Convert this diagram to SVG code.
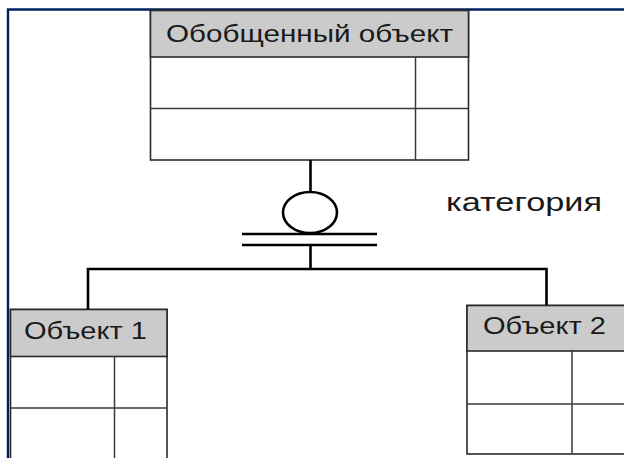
<svg xmlns="http://www.w3.org/2000/svg" width="624" height="458" viewBox="0 0 624 458">
<style>
.hdr{fill:#cbcbcb;stroke:#2a2a2a;stroke-width:1.6}
.body{fill:#ffffff;stroke:#2a2a2a;stroke-width:1.6}
.grid{stroke:#3a3a3a;stroke-width:1.5;fill:none}
.conn{stroke:#000;stroke-width:2.6;fill:none}
.t{font-family:"Liberation Sans",Arial,sans-serif;fill:#1a1a1a}
.frame{stroke:#00205f;stroke-width:2.4;fill:none}
</style>
<rect width="624" height="458" fill="#ffffff"/>
<g id="frame"><path class="frame" d="M8,458 V9.5 H624"/></g>
<g id="generic">
<rect class="body" x="150.5" y="10.5" width="318" height="149.5"/>
<rect class="hdr" x="150.5" y="10.5" width="318" height="46.5"/>
<line class="grid" x1="150.5" y1="108.5" x2="468.5" y2="108.5"/>
<line class="grid" x1="415.5" y1="57" x2="415.5" y2="160"/>
<text class="t" x="166" y="41.5" font-size="23" textLength="287" lengthAdjust="spacingAndGlyphs">Обобщенный объект</text>
</g>
<g id="obj1">
<rect class="body" x="10.5" y="309.5" width="156.5" height="160"/>
<rect class="hdr" x="10.5" y="309.5" width="156.5" height="47"/>
<line class="grid" x1="10.5" y1="408" x2="167" y2="408"/>
<line class="grid" x1="114.5" y1="356.5" x2="114.5" y2="458"/>
<text class="t" x="24" y="339" font-size="23" textLength="123" lengthAdjust="spacingAndGlyphs">Объект 1</text>
</g>
<g id="obj2">
<rect class="body" x="467" y="305.5" width="170" height="148.5"/>
<rect class="hdr" x="467" y="305.5" width="170" height="45.5"/>
<line class="grid" x1="467" y1="404" x2="624" y2="404"/>
<line class="grid" x1="572" y1="351" x2="572" y2="454"/>
<text class="t" x="483" y="334" font-size="23" textLength="123" lengthAdjust="spacingAndGlyphs">Объект 2</text>
</g>
<g id="connectors">
<line class="conn" x1="310.5" y1="160" x2="310.5" y2="192"/>
<ellipse class="conn" cx="310" cy="212.5" rx="27" ry="20.5"/>
<line class="conn" x1="242" y1="234" x2="377" y2="234"/>
<line class="conn" x1="242" y1="245" x2="377" y2="245"/>
<line class="conn" x1="310.5" y1="245" x2="310.5" y2="269"/>
<path class="conn" d="M88,309 V269 H546.5 V305"/>
</g>
<g id="category">
<text class="t" x="446" y="211" font-size="26" textLength="156" lengthAdjust="spacingAndGlyphs">категория</text>
</g>
</svg>
